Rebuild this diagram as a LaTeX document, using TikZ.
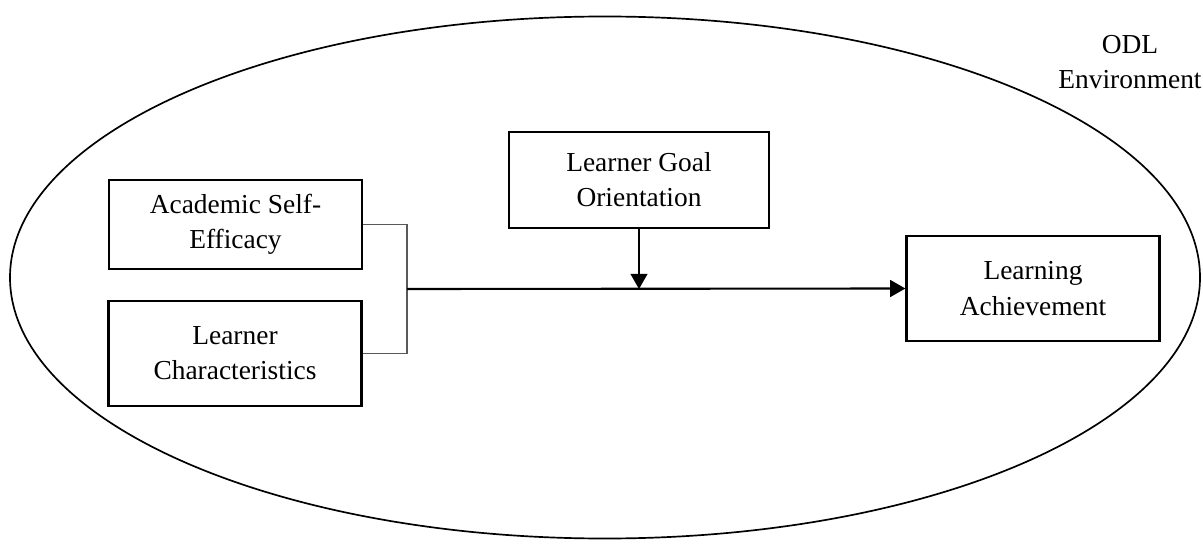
\documentclass[tikz,border=0pt]{standalone}
\usepackage{fontspec}
\setmainfont{Liberation Serif}
\usetikzlibrary{calc}
\usetikzlibrary{arrows.meta}
\newcommand*{\boxwd}{253}
\newcommand*{\junx }{407}
\newcommand*{\tipsz}{-{Triangle[length=3.8mm,width=4.2mm]}}
\tikzset{
    factor/.style = {draw, line width=1.6pt, align=center, inner sep=0pt,
                     font=\fontsize{19.5}{25}\selectfont},
    link/.style   = {line width=1.5pt}
}

\begin{document}
\begin{tikzpicture}[x=0.025cm, y=-0.025cm]
        \useasboundingbox (0,0) rectangle (1203,550);
        \draw [line width=1.2pt] (605,277.5) ellipse [x radius=595, y radius=261];
        \node [align=center, font=\fontsize{19.5}{25}\selectfont] (env) at (1130,62) {ODL\\Environment};
        \node [factor, minimum width=\boxwd*0.025cm, minimum height=2.225cm] (ase) at (235.5,224.5) {Academic Self-\\Efficacy};
        \node [factor, minimum width=\boxwd*0.025cm, minimum height=2.625cm] (lc) at (235,353.5) {Learner\\Characteristics};
        \node [factor, minimum width=6.5cm, minimum height=2.4cm] (lgo) at (639,180) {Learner Goal\\Orientation};
        \node [factor, minimum width=\boxwd*0.025cm, minimum height=2.625cm] (la) at (1033,288.5) {Learning\\Achievement};
        \coordinate (jn) at (\junx,289);
        \coordinate (mid) at (lgo.south |- jn);
        %\draw [gray] (ase.east) -- (jn);
        \draw [gray!70!black, line width=0.8pt] (ase.east) -| (jn) |- (lc.east);
        \draw [link, \tipsz] (jn) -- (la.west);
        \draw [link, \tipsz] (lgo.south) -- (mid);
    \end{tikzpicture}
\end{document}
